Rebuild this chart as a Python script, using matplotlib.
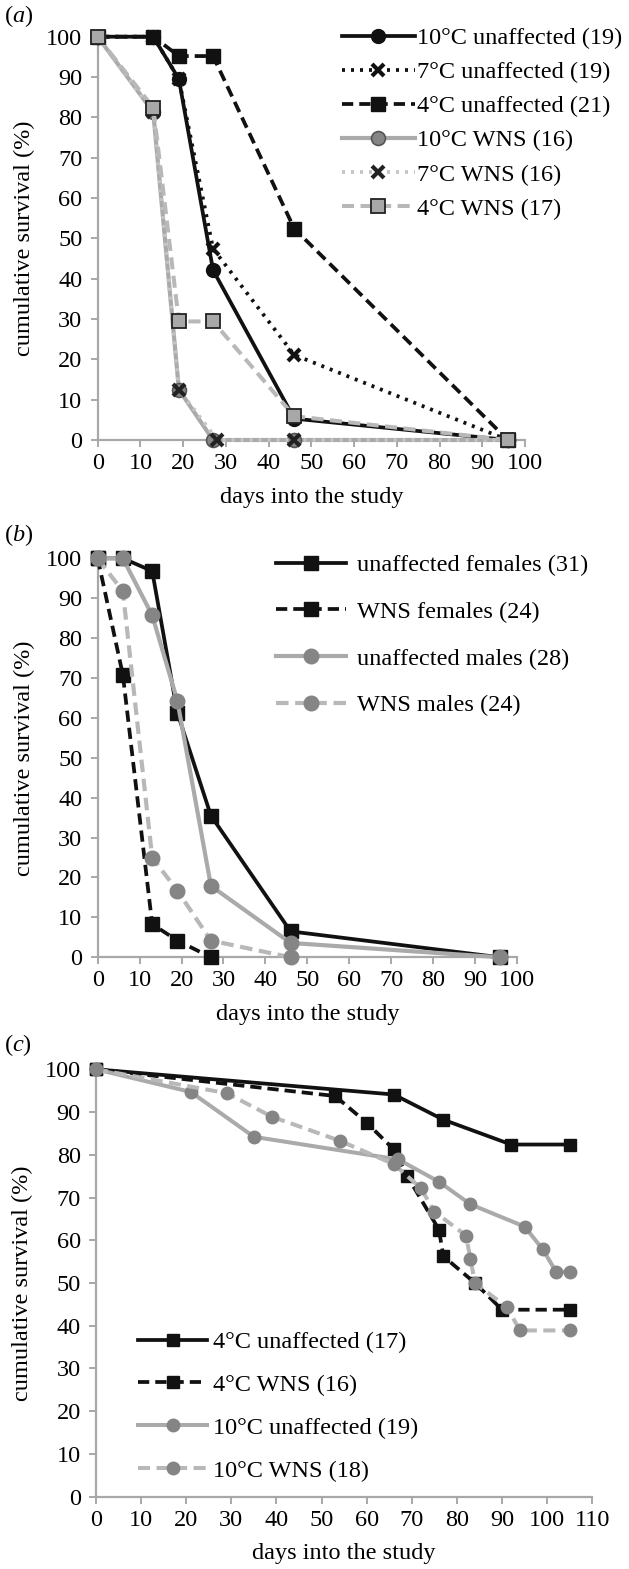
import matplotlib
matplotlib.use("Agg")
import matplotlib.pyplot as plt

plt.rcParams['font.family'] = 'serif'
plt.rcParams['font.serif'] = ['Liberation Serif', 'DejaVu Serif']
plt.rcParams['mathtext.fontset'] = 'custom'
plt.rcParams['mathtext.rm'] = 'Liberation Serif'
plt.rcParams['mathtext.it'] = 'Liberation Serif:italic'

# ---- panel (a): temperature x disease status ----
a_days = [0, 13, 19, 27, 46, 96]
a_days_7w = [0, 13, 19, 28, 46, 96]
a_10u = [100, 100, 89.5, 42.1, 5.3, 0]
a_7u = [100, 100, 89.5, 47.4, 21.1, 0]
a_4u = [100, 100, 95.2, 95.2, 52.4, 0]
a_10w = [100, 81.3, 12.5, 0, 0, 0]
a_7w = [100, 81.3, 12.5, 0, 0, 0]
a_4w = [100, 82.4, 29.4, 29.4, 5.9, 0]
a_labels = ["10°C unaffected (19)", "7°C unaffected (19)", "4°C unaffected (21)",
            "10°C WNS (16)", "7°C WNS (16)", "4°C WNS (17)"]

# ---- panel (b): sex x disease status ----
b_days = [0, 6, 13, 19, 27, 46, 96]
b_uf = [100, 100, 96.8, 61.3, 35.5, 6.5, 0]
b_wf = [100, 70.8, 8.3, 4.2, 0]
b_um = [100, 100, 85.7, 64.3, 17.9, 3.6, 0]
b_wm = [100, 91.7, 25.0, 16.7, 4.2, 0]
b_labels = ["unaffected females (31)", "WNS females (24)",
            "unaffected males (28)", "WNS males (24)"]

# ---- panel (c): second experiment ----
c_4u_days = [0, 66, 77, 92, 105]
c_4u = [100, 94.1, 88.2, 82.4, 82.4]
c_4w_days = [0, 53, 60, 66, 69, 76, 77, 84, 90, 105]
c_4w = [100, 93.75, 87.5, 81.25, 75, 62.5, 56.25, 50, 43.75, 43.75]
c_10u_days = [0, 21, 35, 67, 76, 83, 95, 99, 102, 105]
c_10u = [100, 94.7, 84.2, 78.9, 73.7, 68.4, 63.2, 57.9, 52.6, 52.6]
c_10w_days = [0, 29, 39, 54, 66, 72, 75, 82, 83, 84, 91, 94, 105]
c_10w = [100, 94.4, 88.9, 83.3, 77.8, 72.2, 66.7, 61.1, 55.6, 50, 44.4, 38.9, 38.9]
c_labels = ["4°C unaffected (17)", "4°C WNS (16)", "10°C unaffected (19)", "10°C WNS (18)"]

BLACK = '#111111'
LGRAY = '#aaaaaa'
MGRAY = '#858585'
SPINE = '#a8a8a8'
FS = 17.5

W, H = 629, 1569
fig = plt.figure(figsize=(W / 100, H / 100), dpi=100)


def make_ax(left, right, top, bottom):
    return fig.add_axes([left / W, 1 - bottom / H, (right - left) / W, (bottom - top) / H])


def style(ax, xmax):
    ax.set_xlim(0, xmax)
    ax.set_ylim(0, 100)
    ax.set_xticks(range(0, xmax + 1, 10))
    ax.set_yticks(range(0, 101, 10))
    for s in ['top', 'right']:
        ax.spines[s].set_visible(False)
    for s in ['left', 'bottom']:
        ax.spines[s].set_color(SPINE)
        ax.spines[s].set_linewidth(1.6)
    ax.tick_params(direction='out', length=5, width=1.4, color=SPINE, labelsize=FS)
    ax.tick_params(axis='y', pad=6)
    ax.tick_params(axis='x', pad=4.5)
    ax.set_xlabel("days into the study", fontsize=FS, labelpad=9)
    ax.set_ylabel("cumulative survival (%)", fontsize=FS, labelpad=8)


dash_k = (0, (3, 1.6))
dash_g = (0, (3, 1.6))
dot_k = (0, (0.8, 1.6))

# panel a
ax = make_ax(97.7, 525, 36.7, 440)
style(ax, 100)
ax.plot(a_days, a_10u, color=BLACK, lw=2.7, marker='o', ms=10, mfc=BLACK, mec=BLACK,
        clip_on=False, zorder=3, label=a_labels[0])
ax.plot(a_days, a_7u, color=BLACK, lw=2.7, ls=dot_k, marker='x', ms=9, mew=3, mec=BLACK,
        clip_on=False, zorder=3, label=a_labels[1])
ax.plot(a_days, a_4u, color=BLACK, lw=2.7, ls=dash_k, marker='s', ms=9.5, mfc=BLACK, mec=BLACK,
        clip_on=False, zorder=3, label=a_labels[2])
ax.plot(a_days, a_10w, color=LGRAY, lw=3, marker='o', ms=10, mfc=MGRAY, mec='#555555', mew=1.2,
        clip_on=False, zorder=3, label=a_labels[3])
ax.plot(a_days_7w, a_7w, color='#c4c4c4', lw=2.7, ls=dot_k, marker='x', ms=9, mew=3, mec='#222222',
        clip_on=False, zorder=3, label=a_labels[4])
ax.plot(a_days, a_4w, color='#b8b8b8', lw=2.9, ls=dash_g, marker='s', ms=9.5, mfc='#a8a8a8',
        mec='#222222', mew=1.3, clip_on=False, zorder=3, label=a_labels[5])
ax.legend(loc='upper left', bbox_to_anchor=(342 / W, 1 - 27 / H), bbox_transform=fig.transFigure,
          frameon=False, fontsize=FS, handlelength=3.0, handletextpad=0.1, labelspacing=0.5,
          borderpad=0, borderaxespad=0, numpoints=1)
fig.text(4 / W, 1 - 16 / H, r'($\it{a}$)', fontsize=FS, va='center', ha='left')

# panel b
ax = make_ax(97.7, 517, 558.3, 957.3)
style(ax, 100)
ax.plot(b_days, b_uf, color=BLACK, lw=2.7, marker='s', ms=9.5, mfc=BLACK, mec=BLACK,
        clip_on=False, zorder=3, label=b_labels[0])
ax.plot(b_days[:5], b_wf, color=BLACK, lw=2.7, ls=dash_k, marker='s', ms=9.5, mfc=BLACK, mec=BLACK,
        clip_on=False, zorder=3, label=b_labels[1])
ax.plot(b_days, b_um, color=LGRAY, lw=3, marker='o', ms=10.5, mfc=MGRAY, mec=MGRAY,
        clip_on=False, zorder=3, label=b_labels[2])
ax.plot(b_days[:6], b_wm, color='#b8b8b8', lw=3, ls=dash_g, marker='o', ms=10.5, mfc=MGRAY, mec=MGRAY,
        clip_on=False, zorder=3, label=b_labels[3])
ax.legend(loc='upper left', bbox_to_anchor=(276 / W, 1 - 554 / H), bbox_transform=fig.transFigure,
          frameon=False, fontsize=FS, handlelength=2.9, handletextpad=0.45, labelspacing=1.02,
          borderpad=0, borderaxespad=0, numpoints=1)
fig.text(4 / W, 1 - 535 / H, r'($\it{b}$)', fontsize=FS, va='center', ha='left')

# panel c
ax = make_ax(96, 592.3, 1069.3, 1496.7)
style(ax, 110)
ax.plot(c_4u_days, c_4u, color=BLACK, lw=2.7, marker='s', ms=8.5, mfc=BLACK, mec=BLACK,
        clip_on=False, zorder=3, label=c_labels[0])
ax.plot(c_4w_days, c_4w, color=BLACK, lw=2.7, ls=dash_k, marker='s', ms=8.5, mfc=BLACK, mec=BLACK,
        clip_on=False, zorder=3, label=c_labels[1])
ax.plot(c_10u_days, c_10u, color=LGRAY, lw=2.9, marker='o', ms=9, mfc=MGRAY, mec=MGRAY,
        clip_on=False, zorder=3, label=c_labels[2])
ax.plot(c_10w_days, c_10w, color='#b8b8b8', lw=2.9, ls=dash_g, marker='o', ms=9, mfc=MGRAY, mec=MGRAY,
        clip_on=False, zorder=3, label=c_labels[3])
ax.legend(loc='upper left', bbox_to_anchor=(138 / W, 1 - 1331 / H), bbox_transform=fig.transFigure,
          frameon=False, fontsize=FS, handlelength=2.85, handletextpad=0.25, labelspacing=0.86,
          borderpad=0, borderaxespad=0, numpoints=1)
fig.text(4 / W, 1 - 1045 / H, r'($\it{c}$)', fontsize=FS, va='center', ha='left')

fig.savefig("out.png", dpi=100, facecolor='white')
